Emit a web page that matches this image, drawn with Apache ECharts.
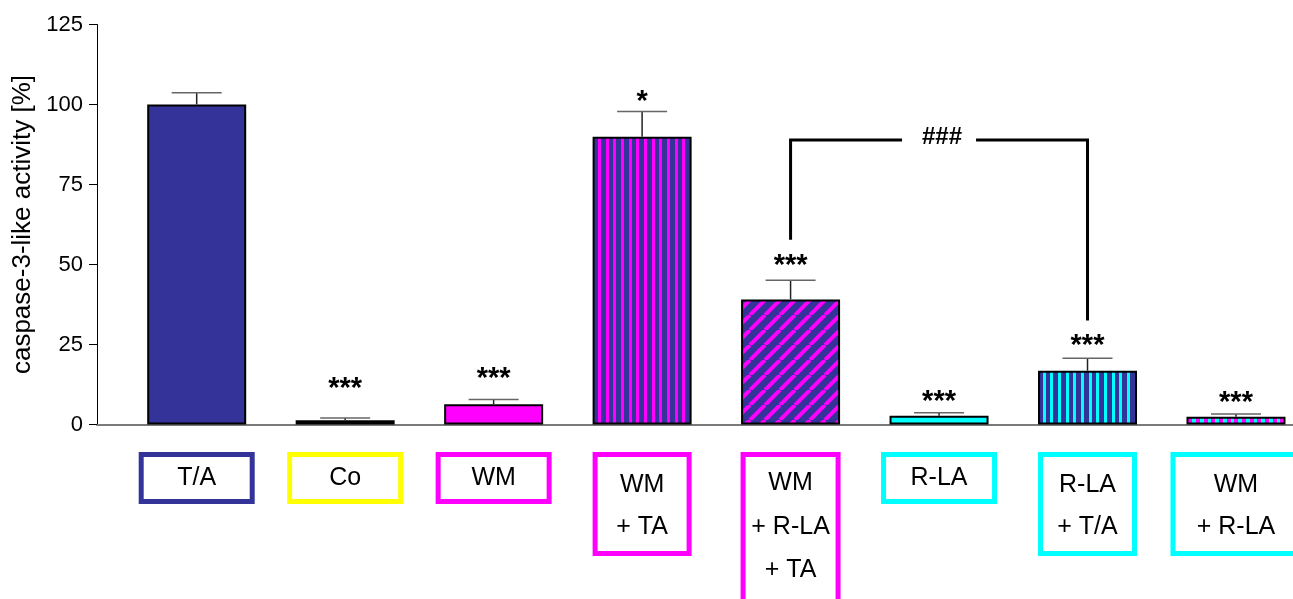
<!DOCTYPE html>
<html>
<head>
<meta charset="utf-8">
<script src="https://cdn.jsdelivr.net/npm/echarts@6/dist/echarts.min.js"></script>
<style>
  html, body { margin: 0; padding: 0; background: #fff; }
  #chart { width: 1293px; height: 599px; }
</style>
</head>
<body>
<div id="chart"></div>
<script>
// Treatment groups and caspase-3-like activity (% of T/A): mean and SEM
const categories = ['T/A', 'Co', 'WM', 'WM\n+ TA', 'WM\n+ R-LA\n+ TA', 'R-LA', 'R-LA\n+ T/A', 'WM\n+ R-LA'];
const meanValues = [100, 1.3, 6.3, 89.9, 39.1, 2.75, 16.8, 2.45];
const semValues = [3.7, 0.7, 1.5, 7.9, 6.0, 0.95, 3.9, 0.85];
const significance = ['', '***', '***', '*', '***', '***', '***', '***'];
const yTicks = [0, 25, 50, 75, 100, 125];
// Pairwise comparison between "WM + R-LA + TA" and "R-LA + T/A"
const comparisonGroups = [4, 6];
const comparisonLevels = [88.9, 57.7, 32.5]; // bracket top, left end, right end
const comparisonMark = '###';

// ---- styling ----
const FONT = 'Liberation Sans, Arial, Helvetica, sans-serif';
const NAVY = '#333399', MAGENTA = '#ff00ff', CYAN = '#00ffff', YELLOW = '#ffff00';

// vertical stripes: stripe starts within a 23 px tile (periods 8, 7, 8)
function stripes(bg, fg, stripeW) {
  const w = 23, h = 4, starts = [0, 8, 15];
  const cv = document.createElement('canvas');
  cv.width = w; cv.height = h;
  const ctx = cv.getContext('2d');
  ctx.fillStyle = bg; ctx.fillRect(0, 0, w, h);
  ctx.fillStyle = fg;
  for (const s of starts) ctx.fillRect(s, 0, stripeW, h);
  return { image: cv, repeat: 'repeat' };
}
function diagonal(bg, fg) {
  const s = 15;
  const cv = document.createElement('canvas');
  cv.width = s; cv.height = s;
  const ctx = cv.getContext('2d');
  ctx.fillStyle = bg; ctx.fillRect(0, 0, s, s);
  ctx.strokeStyle = fg; ctx.lineWidth = 4;
  for (const off of [-s, 0, s]) {
    ctx.beginPath(); ctx.moveTo(off, s); ctx.lineTo(off + s, 0); ctx.stroke();
  }
  return { image: cv, repeat: 'repeat' };
}

const barFills = [
  NAVY, '#000', MAGENTA,
  stripes(NAVY, MAGENTA, 3),
  diagonal(NAVY, MAGENTA),
  CYAN,
  stripes(NAVY, CYAN, 3),
  stripes(CYAN, MAGENTA, 4)
];
const boxColors = [NAVY, YELLOW, MAGENTA, MAGENTA, MAGENTA, CYAN, CYAN, CYAN];
const boxWidths = [111, 111, 111, 94, 95, 111, 94, 126];
const starLift = [0, 33, 24.6, 13.7, 18.6, 14.7, 16.6, 15];

function boxLabel(i) {
  const lines = categories[i].split('\n').length;
  const lab = {
    show: true, position: 'bottom', distance: 30,
    formatter: categories[i], color: '#000', fontSize: 25, fontFamily: FONT,
    align: 'center', borderColor: boxColors[i], borderWidth: 5,
    width: boxWidths[i], overflow: 'none', opacity: 1
  };
  if (lines === 1) { lab.lineHeight = 47; lab.padding = 0; }
  else if (lines === 2) { lab.lineHeight = 42; lab.padding = [9.5, 0, 5.5, 0]; }
  else { lab.lineHeight = 43.5; lab.padding = [7, 0, 25, 0]; }
  return lab;
}

const chart = echarts.init(document.getElementById('chart'), null, { renderer: 'canvas' });

chart.setOption({
  animation: false,
  backgroundColor: '#fff',
  grid: { left: 97, right: 0, top: 24.5, bottom: 174.5, containLabel: false },
  xAxis: {
    type: 'value', min: -0.6715, max: 7.384,
    axisLine: { show: true, onZero: true, lineStyle: { color: '#7a7a7a', width: 2 } },
    axisTick: { show: false }, axisLabel: { show: false }, splitLine: { show: false }
  },
  yAxis: {
    type: 'value',
    min: yTicks[0], max: yTicks[yTicks.length - 1], interval: yTicks[1] - yTicks[0],
    name: 'caspase-3-like activity [%]', nameLocation: 'middle', nameGap: 50,
    nameTextStyle: { fontSize: 26, fontFamily: FONT, color: '#000' },
    axisLine: { show: true, onZero: false, lineStyle: { color: '#000', width: 1 } },
    axisTick: { show: true, inside: false, length: 8, lineStyle: { color: '#000', width: 1 } },
    axisLabel: { fontSize: 22, fontFamily: FONT, color: '#000', margin: 14 },
    splitLine: { show: false }
  },
  series: [
    {
      type: 'bar', barWidth: 99, z: 2,
      data: meanValues.map((v, i) => ({
        value: [i, v],
        itemStyle: { color: barFills[i], borderColor: '#000', borderWidth: 2 }
      }))
    },
    {
      // SEM error bars with significance marks
      type: 'custom', z: 3, silent: true,
      data: meanValues.map((v, i) => [i, v, semValues[i]]),
      renderItem(params, api) {
        const i = api.value(0), m = api.value(1), e = api.value(2);
        const base = api.coord([i, m]);
        const top = api.coord([i, m + e]);
        const children = [
          { type: 'line', shape: { x1: top[0], y1: base[1], x2: top[0], y2: top[1] },
            style: { stroke: '#222', lineWidth: 1.5 } },
          { type: 'line', shape: { x1: top[0] - 25, y1: top[1], x2: top[0] + 25, y2: top[1] },
            style: { stroke: '#666', lineWidth: 1.5 } }
        ];
        const mark = significance[params.dataIndex];
        if (mark) {
          children.push({
            type: 'text', x: top[0], y: top[1] - starLift[params.dataIndex] + 4,
            style: { text: mark, fill: '#000', fontSize: 29, fontWeight: 'bold',
                     fontFamily: FONT, align: 'center', verticalAlign: 'middle' }
          });
        }
        return { type: 'group', children };
      }
    },
    {
      // comparison bracket
      type: 'custom', z: 3, silent: true,
      data: [[comparisonGroups[0], comparisonGroups[1]].concat(comparisonLevels)],
      renderItem(params, api) {
        const a = api.value(0), b = api.value(1);
        const lvl = api.value(2), endA = api.value(3), endB = api.value(4);
        const pA0 = api.coord([a, endA]), pA1 = api.coord([a, lvl]);
        const pB1 = api.coord([b, lvl]), pB0 = api.coord([b, endB]);
        const mid = api.coord([(a + b) / 2, lvl]);
        const gap = 37;
        const ls = { stroke: '#000', lineWidth: 3, fill: null, lineJoin: 'miter' };
        return {
          type: 'group',
          children: [
            { type: 'polyline', shape: { points: [pA0, pA1, [mid[0] - gap, pA1[1]]] }, style: ls },
            { type: 'polyline', shape: { points: [[mid[0] + gap, pB1[1]], pB1, pB0] }, style: ls },
            { type: 'text', x: mid[0] + 3, y: mid[1] - 2.5,
              style: { text: comparisonMark, fill: '#000', fontSize: 24, fontWeight: 'bold',
                       fontFamily: FONT, align: 'center', verticalAlign: 'middle' } }
          ]
        };
      }
    },
    {
      // group name boxes beneath the axis
      type: 'scatter', symbolSize: 0, silent: true, clip: false, z: 4,
      itemStyle: { opacity: 1 },
      data: categories.map((c, i) => ({ value: [i, 0], label: boxLabel(i) }))
    }
  ]
});
</script>
</body>
</html>
